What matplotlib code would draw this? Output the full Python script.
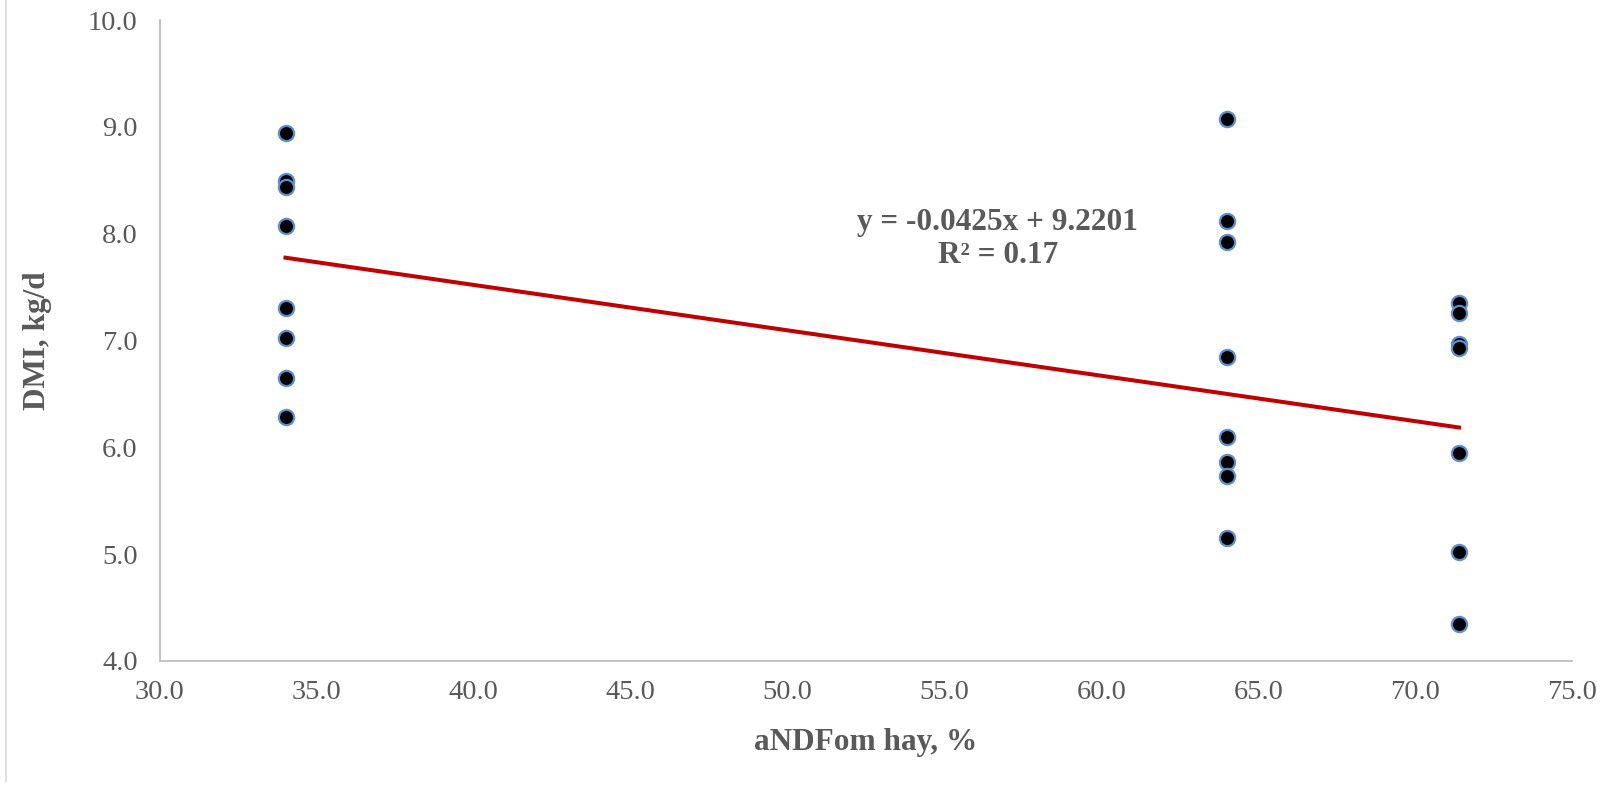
import numpy as np
import matplotlib.pyplot as plt
from matplotlib.lines import Line2D

# ----------------------------------------------------
# DATA
# ----------------------------------------------------
andf_low = [34.0] * 8
dmi_low = [8.94, 8.49, 8.44, 8.07, 7.30, 7.02, 6.65, 6.28]

andf_mid = [64.0] * 8
dmi_mid = [9.07, 8.12, 7.92, 6.85, 6.10, 5.86, 5.73, 5.15]

andf_high = [71.4] * 7
dmi_high = [7.35, 7.26, 6.97, 6.93, 5.95, 5.02, 4.35]

slope = -0.0425
intercept = 9.2201
r2 = 0.17

x_ticks = [30.0, 35.0, 40.0, 45.0, 50.0, 55.0, 60.0, 65.0, 70.0, 75.0]
y_ticks = [4.0, 5.0, 6.0, 7.0, 8.0, 9.0, 10.0]

x_all = np.array(andf_low + andf_mid + andf_high)
y_all = np.array(dmi_low + dmi_mid + dmi_high)

# ----------------------------------------------------
# PLOT
# ----------------------------------------------------
plt.rcParams['font.family'] = ['Liberation Serif', 'DejaVu Serif']
grey = "#595959"

fig = plt.figure(figsize=(16.23, 7.85), dpi=100)
ax = fig.add_axes([160 / 1623, 1 - 661 / 785, 1412 / 1623, 641 / 785])

# trendline over data range
xs = np.array([x_all.min(), x_all.max()])
ax.plot(xs, slope * xs + intercept, color="#C00000", lw=2.9, zorder=2)

ax.scatter(x_all, y_all, s=120, c="black", edgecolors="#5B8FD0",
           linewidths=1.6, zorder=3)

ax.text(56.7, 7.95,
        "y = %.4fx + %.4f\nR² = %.2f" % (slope, intercept, r2),
        ha="center", va="center", fontsize=22.5, fontweight="bold",
        color=grey, linespacing=1.2)

ax.set_xlim(30, 75)
ax.set_ylim(4, 10)
ax.set_xticks(x_ticks)
ax.set_yticks(y_ticks)
ax.set_xticklabels(["%.1f" % v for v in x_ticks])
ax.set_yticklabels(["%.1f" % v for v in y_ticks])
ax.tick_params(length=0, labelsize=20.5, labelcolor=grey, pad=14)
ax.tick_params(axis="y", pad=16)

for side in ["top", "right"]:
    ax.spines[side].set_visible(False)
for side in ["left", "bottom"]:
    ax.spines[side].set_color("#BFBFBF")
    ax.spines[side].set_linewidth(1.3)

ax.set_xlabel("aNDFom hay, %", fontsize=22.5, fontweight="bold", color=grey,
              labelpad=16)
ax.set_ylabel("DMI, kg/d", fontsize=22.5, fontweight="bold", color=grey,
              labelpad=26)

# chart border on left
fig.add_artist(Line2D([6 / 1623, 6 / 1623], [1 - 781 / 785, 1.0],
                      color="#D9D9D9", lw=1.3))

fig.savefig("out.png", dpi=100)
